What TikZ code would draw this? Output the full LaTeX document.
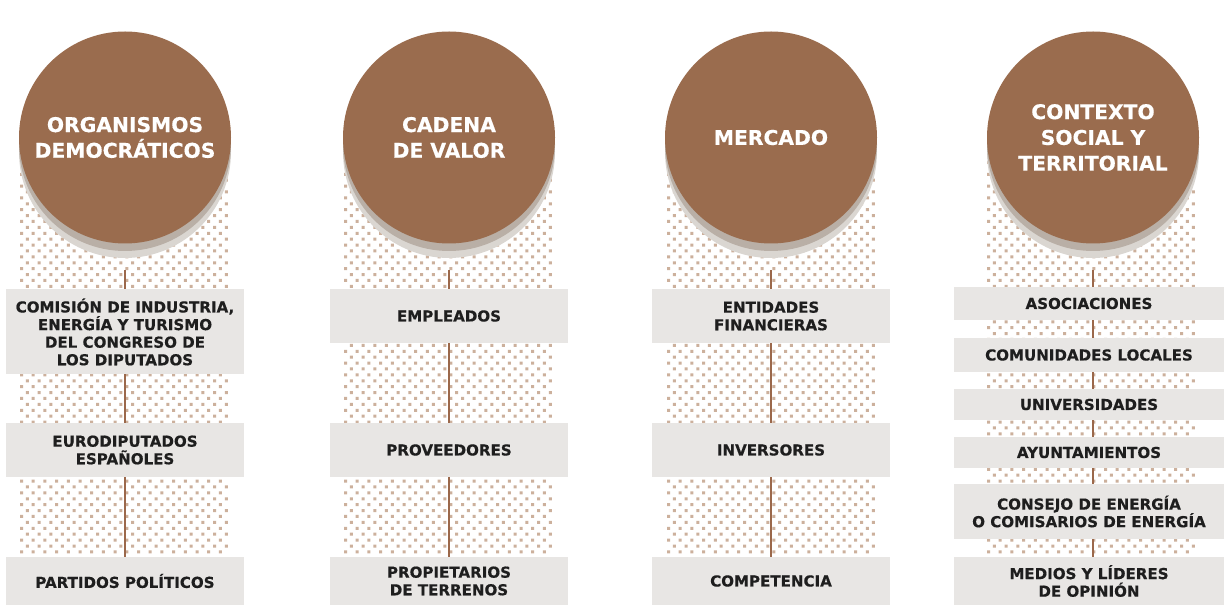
\documentclass[tikz,border=0pt]{standalone}
\usepackage{fontspec}
\setmainfont{DejaVu Sans}
\newfontfamily\heavyfont{DejaVu Sans Bold}[FakeBold=0.5]
\definecolor{brownc}{RGB}{154,108,78}
\definecolor{shadowA}{RGB}{185,175,166}
\definecolor{shadowB}{RGB}{218,214,209}
\definecolor{boxgray}{RGB}{232,230,228}
\definecolor{textc}{RGB}{30,30,30}
\definecolor{dotc}{RGB}{204,176,156}
\definecolor{linec}{RGB}{155,104,75}
\pgfdeclarelayer{bglayer}
\pgfdeclarelayer{dotslayer}
\pgfdeclarelayer{linelayer}
\pgfsetlayers{bglayer,dotslayer,linelayer,main}
\begin{document}
\begin{tikzpicture}[x=0.75pt,y=-0.75pt,
  title/.style={circle, fill=brownc, minimum size=159pt, inner sep=0pt, text=white,
    font=\heavyfont\fontsize{15.2}{19.3}\selectfont, align=center},
  shadowa/.style={circle, fill=shadowA, minimum size=159pt, inner sep=0pt},
  shadowb/.style={circle, fill=shadowB, minimum size=159pt, inner sep=0pt},
  item/.style={rectangle, fill=boxgray, inner sep=0pt, text=textc,
    font=\heavyfont\fontsize{11.3}{13.2}\selectfont, align=center},
  itemA/.style={item, minimum width=178.5pt},
  itemB/.style={item, minimum width=202.5pt},
  conn/.style={draw=linec, line width=2.2pt}
]
\useasboundingbox (0,0) rectangle (1224,605);
\begin{pgfonlayer}{bglayer}
\fill[white] (0,0) rectangle (1224,605);
\end{pgfonlayer}

% dotted backgrounds
\begin{pgfonlayer}{dotslayer}
\foreach \L in {20,344,667,987}{
  \fill[dotc] \foreach \r in {0,...,66}{
    \foreach \c in {0,...,17}{
      ({\L+\c*11.7+mod(\r,2)*5.85},{161+\r*5.9}) rectangle ++(3,3)
    }
  };
}
\end{pgfonlayer}

% circles with shadows
\node[shadowb] (s1b) at (125,152) {};
\node[shadowa] (s1a) at (125,145) {};
\node[title] (c1) at (125,137.5) {ORGANISMOS\\DEMOCRÁTICOS};
\node[shadowb] (s2b) at (449,152) {};
\node[shadowa] (s2a) at (449,145) {};
\node[title] (c2) at (449,137.5) {CADENA\\DE VALOR};
\node[shadowb] (s3b) at (771,152) {};
\node[shadowa] (s3a) at (771,145) {};
\node[title] (c3) at (771,137.5) {MERCADO};
\node[shadowb] (s4b) at (1093,152) {};
\node[shadowa] (s4a) at (1093,145) {};
\node[title] (c4) at (1093,137.5) {CONTEXTO\\SOCIAL Y\\TERRITORIAL};

% column 1
\node[itemA, minimum height=63.75pt] (b11) at (125,332) {COMISIÓN DE INDUSTRIA,\\ENERGÍA Y TURISMO\\DEL CONGRESO DE\\LOS DIPUTADOS};
\node[itemA, minimum height=40.5pt] (b12) at (125,450) {EURODIPUTADOS\\ESPAÑOLES};
\node[itemA, minimum height=36pt] (b13) at (125,581) {PARTIDOS POLÍTICOS};
% column 2
\node[itemA, minimum height=40.5pt] (b21) at (449,316) {EMPLEADOS};
\node[itemA, minimum height=40.5pt] (b22) at (449,450) {PROVEEDORES};
\node[itemA, minimum height=36pt] (b23) at (449,581) {PROPIETARIOS\\DE TERRENOS};
% column 3
\node[itemA, minimum height=40.5pt] (b31) at (771,316) {ENTIDADES\\FINANCIERAS};
\node[itemA, minimum height=40.5pt] (b32) at (771,450) {INVERSORES};
\node[itemA, minimum height=36pt] (b33) at (771,581) {COMPETENCIA};
% column 4
\node[itemB, minimum height=24.75pt] (b41) at (1089,303.5) {ASOCIACIONES};
\node[itemB, minimum height=25.5pt] (b42) at (1089,355) {COMUNIDADES LOCALES};
\node[itemB, minimum height=23.25pt] (b43) at (1089,404.5) {UNIVERSIDADES};
\node[itemB, minimum height=23.25pt] (b44) at (1089,452.5) {AYUNTAMIENTOS};
\node[itemB, minimum height=41.25pt] (b45) at (1089,511.5) {CONSEJO DE ENERGÍA\\O COMISARIOS DE ENERGÍA};
\node[itemB, minimum height=36pt] (b46) at (1089,581) {MEDIOS Y LÍDERES\\DE OPINIÓN};

% connectors
\coordinate (t1) at (125,270);
\coordinate (t2) at (449,270);
\coordinate (t3) at (771,270);
\coordinate (t4) at (1093,270);
\begin{pgfonlayer}{linelayer}
\draw[conn] (t1) -- (t1 |- b13.north);
\draw[conn] (t2) -- (t2 |- b23.north);
\draw[conn] (t3) -- (t3 |- b33.north);
\draw[conn] (t4) -- (t4 |- b46.north);
\end{pgfonlayer}
\end{tikzpicture}
\end{document}
